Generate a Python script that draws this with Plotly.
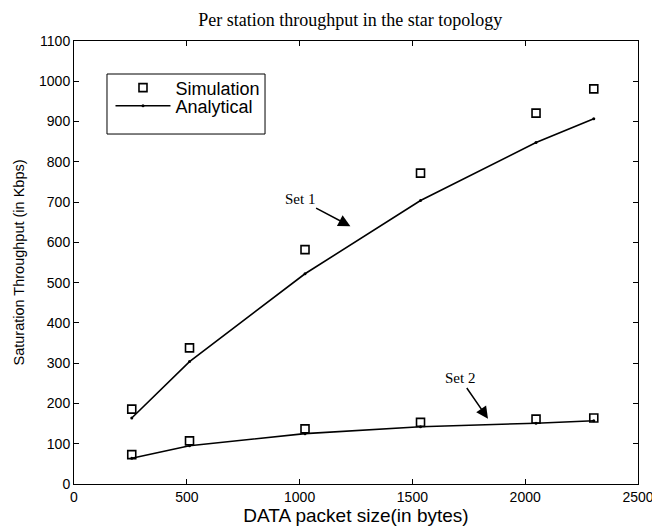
import plotly.graph_objects as go

packet_size = [256, 512, 1024, 1536, 2048, 2304]
sim_set1 = [186, 338, 582, 772, 921, 981]
ana_set1 = [164, 304, 522, 704, 848, 907]
sim_set2 = [73, 107, 137, 153, 161, 164]
ana_set2 = [64, 95, 125, 142, 151, 157]

x_ticks = [0, 500, 1000, 1500, 2000, 2500]
y_ticks = list(range(0, 1101, 100))

fig = go.Figure()

sq = dict(symbol="square-open", size=8, color="black", line=dict(width=1.6, color="black"))
ln = dict(color="black", width=1.6)
dot = dict(symbol="circle", size=3, color="black")

fig.add_trace(go.Scatter(x=packet_size, y=sim_set1, mode="markers", marker=sq,
                         name="Simulation", legend="legend"))
fig.add_trace(go.Scatter(x=packet_size, y=ana_set1, mode="lines+markers", line=ln, marker=dot,
                         name="Analytical", legend="legend2"))
fig.add_trace(go.Scatter(x=packet_size, y=sim_set2, mode="markers", marker=sq,
                         name="Simulation", showlegend=False))
fig.add_trace(go.Scatter(x=packet_size, y=ana_set2, mode="lines+markers", line=ln, marker=dot,
                         name="Analytical", showlegend=False))

arrow_common = dict(xref="x", yref="y", axref="x", ayref="y", showarrow=True,
                    arrowhead=2, arrowsize=1.6, arrowwidth=1.5, arrowcolor="black",
                    font=dict(family="Liberation Serif", size=15, color="black"))
fig.add_annotation(x=1225, y=640, ax=1000, ay=707, text="Set 1", **arrow_common)
fig.add_annotation(x=1835, y=162, ax=1712, ay=262, text="Set 2", **arrow_common)

# legend frame
fig.add_shape(type="rect", xref="paper", yref="paper", x0=0.0585, x1=0.3387, y0=0.790, y1=0.9255,
              line=dict(color="black", width=1), fillcolor="white", layer="below")

axis_common = dict(showline=True, linecolor="black", linewidth=1, mirror="ticks",
                   ticks="inside", ticklen=5, tickcolor="black", showgrid=False, zeroline=False,
                   tickfont=dict(family="Liberation Sans", size=14, color="black"))

fig.update_xaxes(range=[0, 2500], tickvals=x_ticks, automargin=False,
                 title=dict(text="DATA packet size(in bytes)",
                            font=dict(family="Liberation Sans", size=19, color="black"), standoff=4),
                 **axis_common)
fig.update_yaxes(range=[0, 1100], tickvals=y_ticks, automargin=False,
                 title=dict(text="Saturation Throughput (in Kbps)",
                            font=dict(family="Liberation Sans", size=14.5, color="black"), standoff=10),
                 **axis_common)

leg_common = dict(xanchor="left", yanchor="middle", borderwidth=0, bgcolor="rgba(0,0,0,0)",
                  itemwidth=55, font=dict(family="Liberation Sans", size=18, color="black"))

fig.update_layout(
    width=652, height=520,
    margin=dict(l=66, r=22, t=33, b=44),
    paper_bgcolor="white", plot_bgcolor="white",
    title=dict(text="Per station throughput in the star topology", xref="paper", x=0.49,
               xanchor="center", y=0.977, yanchor="middle",
               font=dict(family="Liberation Serif", size=18, color="black")),
    legend=dict(x=0.0647, y=0.894, **leg_common),
    legend2=dict(x=0.0647, y=0.853, **leg_common),
)

fig.write_html("out.html")
